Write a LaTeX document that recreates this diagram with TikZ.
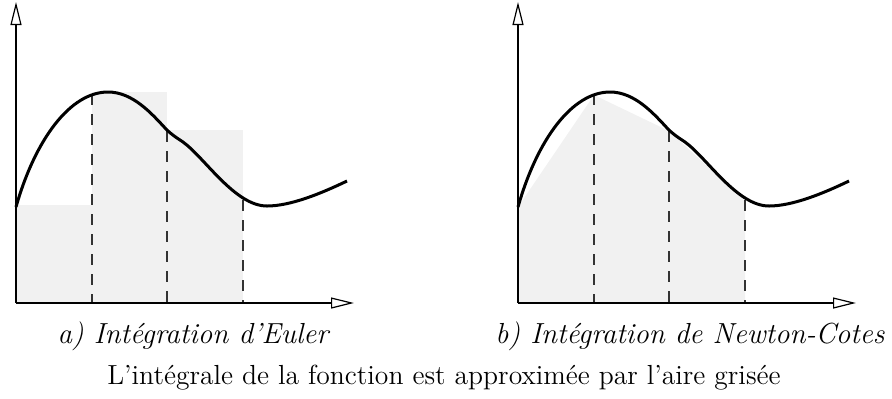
\documentclass[tikz,border=0pt]{standalone}
\usetikzlibrary{arrows.meta}
\definecolor{aire}{HTML}{F1F1F1}
\definecolor{tiret}{HTML}{333333}
\tikzset{
  axe/.style={line width=0.7pt, -{Triangle[open,length=11.5pt,width=5.5pt,line width=0.6pt]}},
  courbe/.style={line width=1.5pt, line join=round},
  pointille/.style={line width=0.8pt, tiret, dash pattern=on 5.5pt off 4.5pt},
  legende/.style={inner sep=0pt, font=\fontsize{14.5}{17}\selectfont\itshape},
  titre/.style={inner sep=0pt, font=\fontsize{13.8}{16}\selectfont},
}
\newcommand\macourbe{(16,207) .. controls (35,140) and (70,92) .. (108,92) .. controls (133,92) and (152,114) .. (166,129) .. controls (172,135) and (177,138) .. (183,142) .. controls (205,158) and (235,206) .. (267,206) .. controls (290,206) and (320,194) .. (347,181)}
\newcommand\mesaxes{%
  \coordinate (O) at (16,303);
  \coordinate (Y) at (16,2);
  \coordinate (X) at (354,303);
  \draw[axe] (O) -- (Y);
  \draw[axe] (O) -- (X);}
\newcommand\mestirets{%
  \coordinate (d1) at (92,94);  \coordinate (b1) at (92,303);
  \coordinate (d2) at (167,131); \coordinate (b2) at (167,303);
  \coordinate (d3) at (243,200); \coordinate (b3) at (243,303);
  \draw[pointille] (d1) -- (b1);
  \draw[pointille] (d2) -- (b2);
  \draw[pointille] (d3) -- (b3);}
\begin{document}
\begin{tikzpicture}[x=0.5pt,y=-0.5pt]
\useasboundingbox (0,0) rectangle (892,398);
% a) Euler
\begin{scope}
  \fill[aire] (16,303) rectangle (92,205);
  \fill[aire] (92,303) rectangle (167,92);
  \fill[aire] (167,303) rectangle (243,130);
  \mestirets
  \draw[courbe] \macourbe;
  \mesaxes
\end{scope}
% b) Newton-Cotes
\begin{scope}[shift={(502,0)}]
  \fill[aire] (16,303) -- (16,207) -- (92,95) -- (167,131) -- (243,201) -- (243,303) -- cycle;
  \mestirets
  \draw[courbe] \macourbe;
  \mesaxes
\end{scope}
\node[legende] (la) at (193,336) {a) Intégration d'Euler};
\node[legende] (lb) at (690,336) {b) Intégration de Newton-Cotes};
\node[titre] (lt) at (444,378) {L'intégrale de la fonction est approximée par l'aire grisée};
\end{tikzpicture}
\end{document}
